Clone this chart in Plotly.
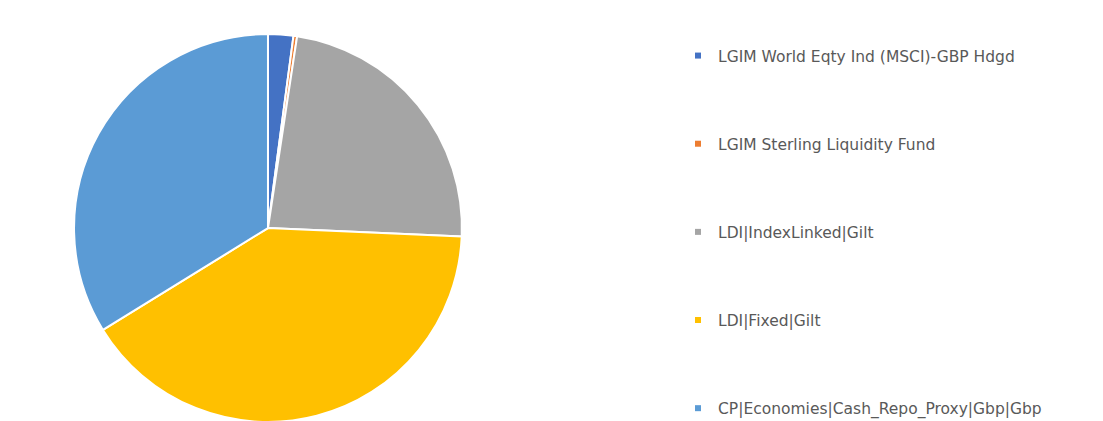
import plotly.graph_objects as go

labels = [
    "LGIM World Eqty Ind (MSCI)-GBP Hdgd",
    "LGIM Sterling Liquidity Fund",
    "LDI|IndexLinked|Gilt",
    "LDI|Fixed|Gilt",
    "CP|Economies|Cash_Repo_Proxy|Gbp|Gbp",
]
values = [2.1, 0.3, 23.3, 40.5, 33.8]
colors = ["#4472C4", "#ED7D31", "#A5A5A5", "#FFC000", "#5B9BD5"]

fig = go.Figure()
fig.add_trace(go.Pie(
    labels=labels,
    values=values,
    sort=False,
    direction="clockwise",
    rotation=0,
    marker=dict(colors=colors, line=dict(color="white", width=2)),
    textinfo="none",
    hoverinfo="label+percent",
    showlegend=False,
    domain=dict(x=[0.0598, 0.4116], y=[0.0166, 0.938]),
))

for i, (lab, col) in enumerate(zip(labels, colors)):
    fig.add_trace(go.Scatter(
        x=[None], y=[None], mode="markers", name=lab,
        marker=dict(symbol="square", size=6, color=col),
        legendgroup="g%d" % i, showlegend=True,
    ))

fig.update_layout(
    width=1103, height=421,
    margin=dict(l=0, r=0, t=0, b=0),
    paper_bgcolor="white", plot_bgcolor="white",
    xaxis=dict(visible=False), yaxis=dict(visible=False),
    font=dict(family="DejaVu Sans", color="#595959"),
    legend=dict(
        x=670 / 1103, xanchor="left",
        y=1 - 31 / 421, yanchor="top",
        font=dict(size=15.5, color="#595959", family="DejaVu Sans"),
        tracegroupgap=65,
        bgcolor="rgba(0,0,0,0)",
    ),
)

fig.write_html("out.html")
